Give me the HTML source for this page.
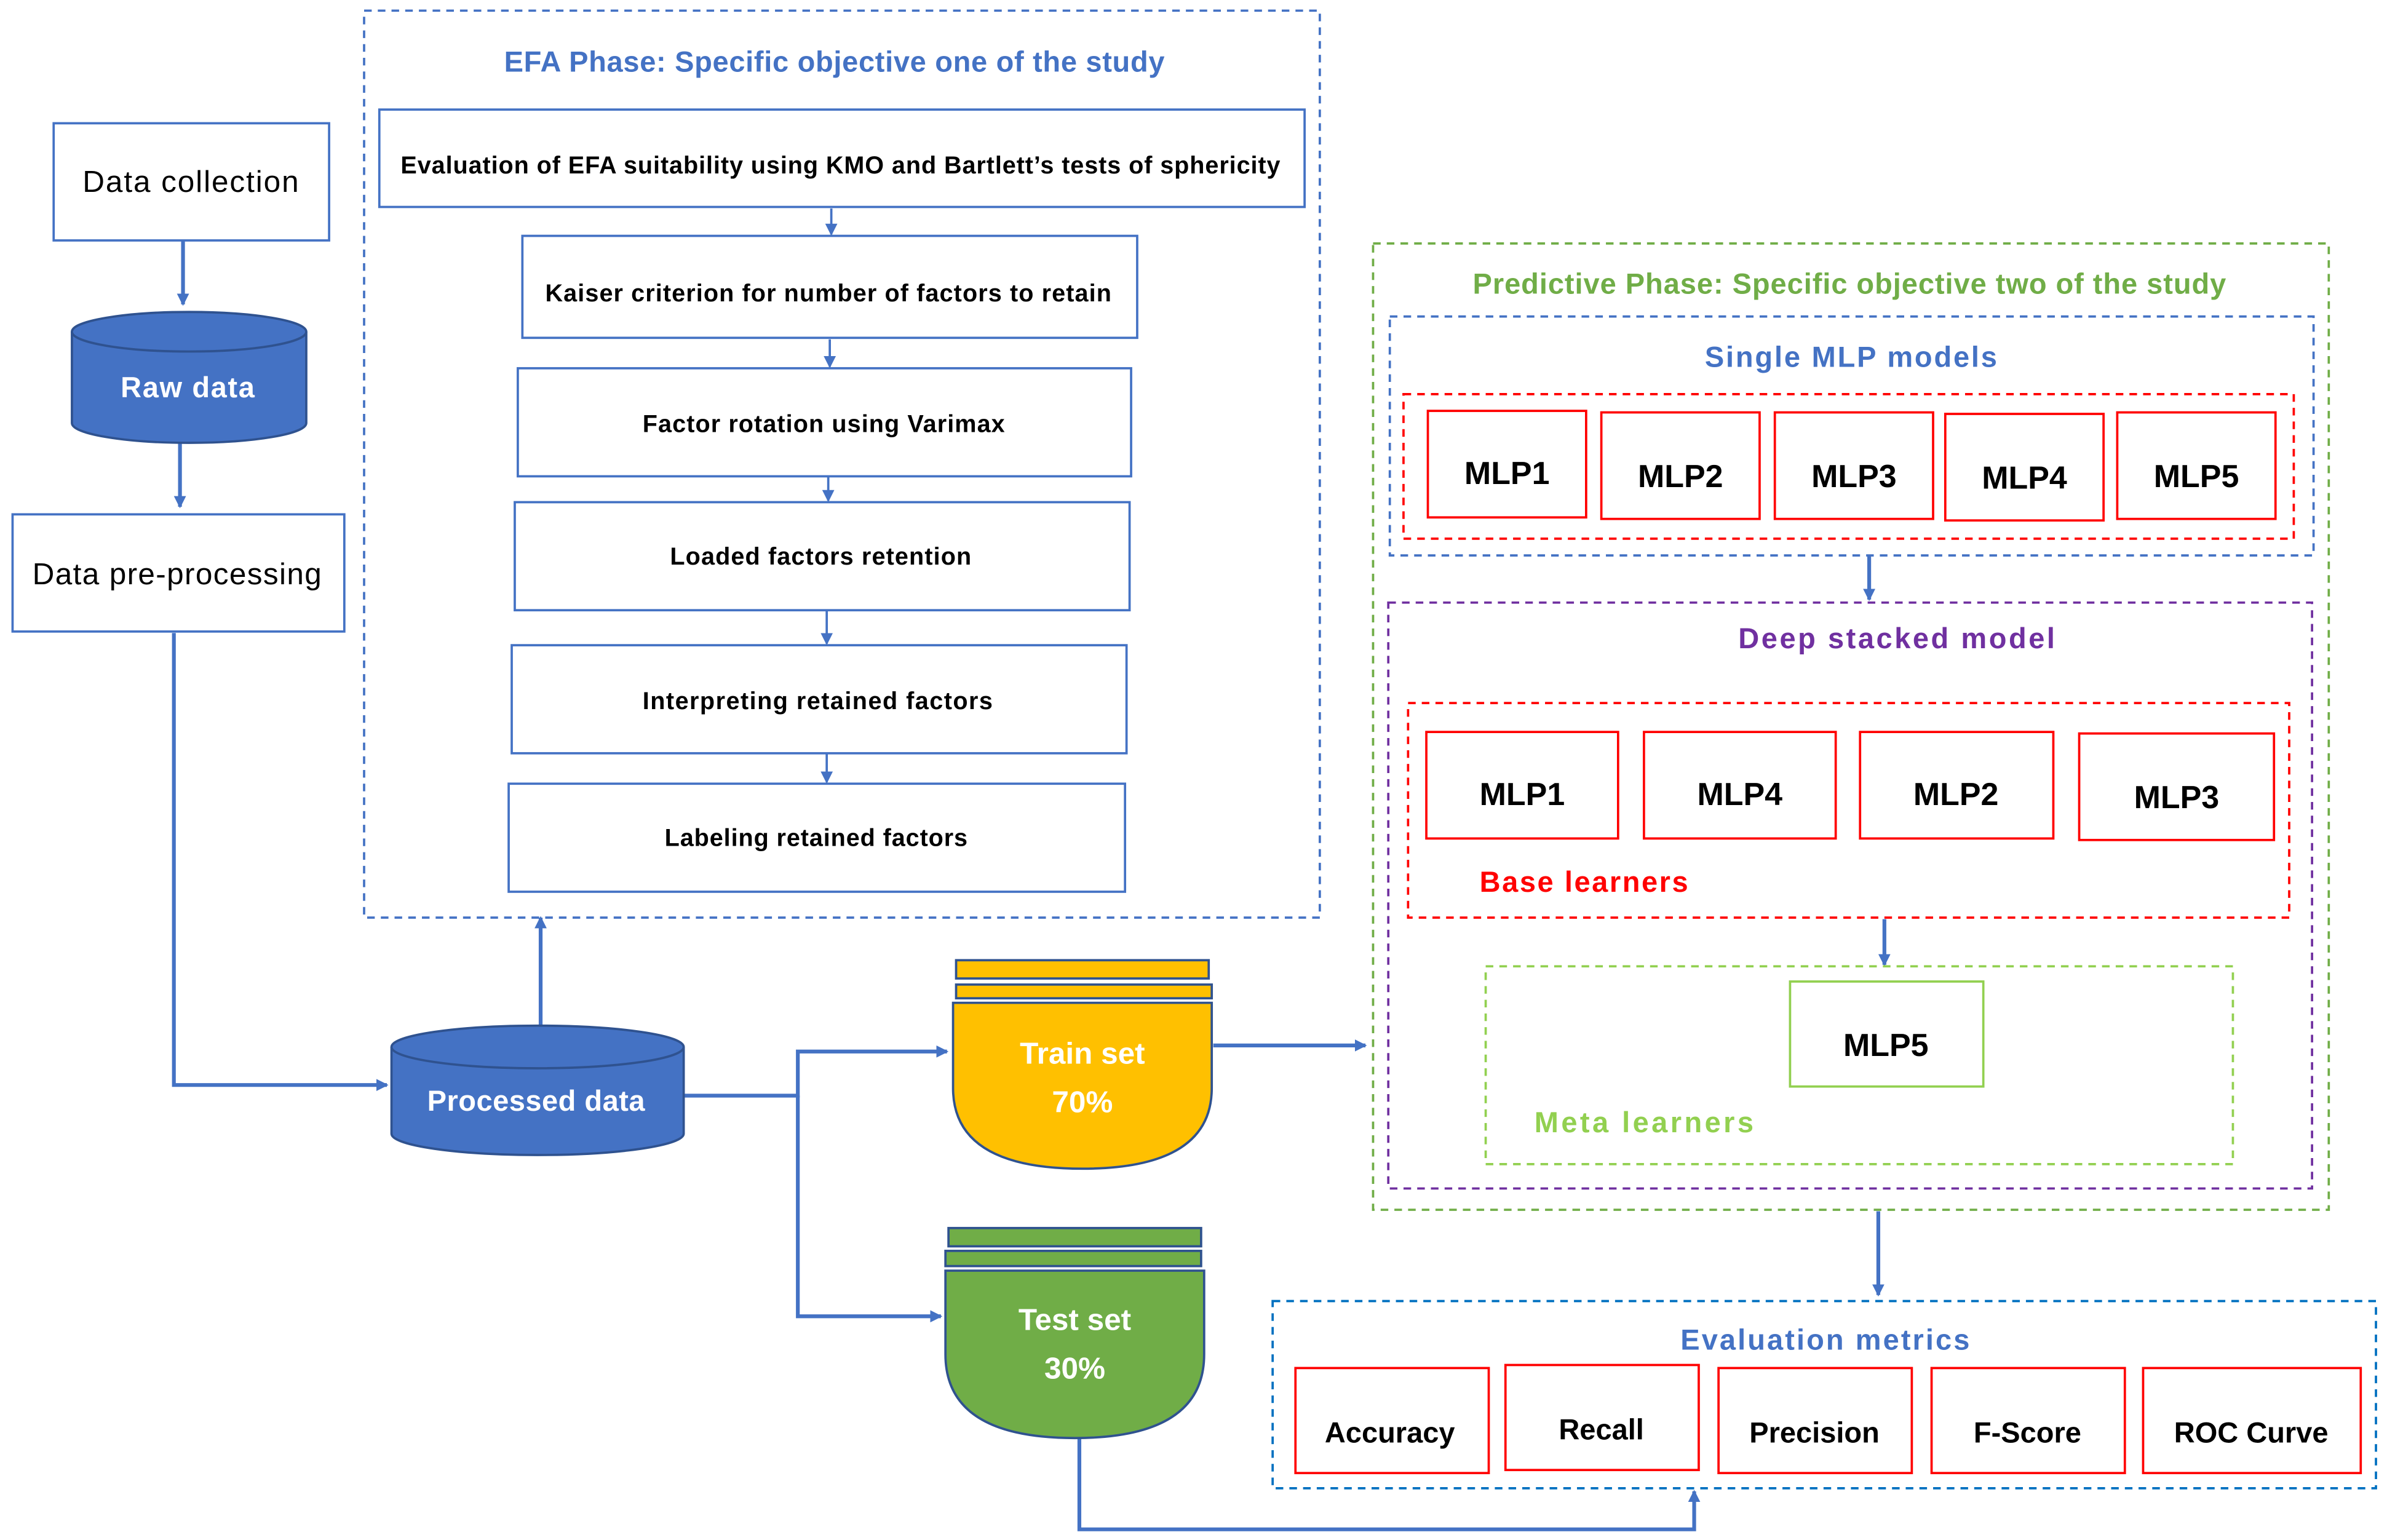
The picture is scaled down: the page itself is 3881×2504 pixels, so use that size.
<!DOCTYPE html>
<html><head><meta charset="utf-8"><style>
html,body{margin:0;padding:0;background:#fff;}
svg{display:block;}
text{font-family:"Liberation Sans",sans-serif;font-weight:bold;}
</style></head><body>
<svg width="3881" height="2504" viewBox="0 0 1568 1012" xmlns="http://www.w3.org/2000/svg">
<defs>
<marker id="ar" markerWidth="8" markerHeight="8" refX="7" refY="4" orient="auto" markerUnits="userSpaceOnUse">
<path d="M0,0 L8,4 L0,8 Z" fill="#4472C4"/></marker>
</defs>
<rect width="1568" height="1012" fill="#fff"/>
<g fill="none" stroke="#4472C4" stroke-width="2.5">
<line x1="120" y1="158" x2="120" y2="200" marker-end="url(#ar)"/>
<line x1="118" y1="290" x2="118" y2="333" marker-end="url(#ar)"/>
<polyline points="114,416 114,713 254,713" marker-end="url(#ar)"/>
<line x1="355" y1="675" x2="355" y2="603" marker-end="url(#ar)"/>
<polyline points="449,720 524,720 524,691 622,691" marker-end="url(#ar)"/>
<polyline points="524,720 524,865 618,865" marker-end="url(#ar)"/>
<line x1="797" y1="687" x2="897" y2="687" marker-end="url(#ar)"/>
<polyline points="709,945 709,1005 1113,1005 1113,980" marker-end="url(#ar)"/>
<line x1="1228" y1="365" x2="1228" y2="394" marker-end="url(#ar)"/>
<line x1="1238" y1="604" x2="1238" y2="634" marker-end="url(#ar)"/>
<line x1="1234" y1="796" x2="1234" y2="851" marker-end="url(#ar)"/>
<line x1="546" y1="137" x2="546" y2="154" stroke-width="1.5" marker-end="url(#ar)"/>
<line x1="545" y1="223" x2="545" y2="241" stroke-width="1.5" marker-end="url(#ar)"/>
<line x1="544" y1="313" x2="544" y2="329" stroke-width="1.5" marker-end="url(#ar)"/>
<line x1="543" y1="401" x2="543" y2="423" stroke-width="1.5" marker-end="url(#ar)"/>
<line x1="543" y1="495" x2="543" y2="514" stroke-width="1.5" marker-end="url(#ar)"/>
</g>
<g fill="#fff" stroke="#4472C4" stroke-width="1.5">
<rect x="35" y="81" width="181" height="77"/>
<rect x="8" y="338" width="218" height="77"/>
<rect x="249" y="72" width="608" height="64"/>
<rect x="343" y="155" width="404" height="67"/>
<rect x="340" y="242" width="403" height="71"/>
<rect x="338" y="330" width="404" height="71"/>
<rect x="336" y="424" width="404" height="71"/>
<rect x="334" y="515" width="405" height="71"/>
</g>
<text x="125" y="126" font-size="20" text-anchor="middle" fill="#000" style="font-weight:normal" textLength="142">Data collection</text>
<text x="116" y="384" font-size="20" text-anchor="middle" fill="#000" style="font-weight:normal" textLength="190">Data pre-processing</text>
<g stroke="#2F528F" stroke-width="1.5">
<path d="M47,218 L47,278 A77,13 0 0 0 201,278 L201,218" fill="#4472C4"/>
<ellipse cx="124" cy="218" rx="77" ry="13" fill="#4472C4"/>
<path d="M257,688 L257,745 A96,14 0 0 0 449,745 L449,688" fill="#4472C4"/>
<ellipse cx="353" cy="688" rx="96" ry="14" fill="#4472C4"/>
</g>
<text x="123" y="261" font-size="19" text-anchor="middle" fill="#fff" textLength="88">Raw data</text>
<text x="352" y="730" font-size="19" text-anchor="middle" fill="#fff" textLength="143">Processed data</text>
<rect x="239" y="7" width="628" height="596" fill="none" stroke="#4472C4" stroke-width="1.5" stroke-dasharray="5,4"/>
<text x="548" y="47" font-size="19" text-anchor="middle" fill="#4472C4" textLength="434">EFA Phase: Specific objective one of the study</text>
<g font-size="16" text-anchor="middle" fill="#000">
<text x="552" y="114" textLength="578">Evaluation of EFA suitability using KMO and Bartlett’s tests of sphericity</text>
<text x="544" y="198" textLength="372">Kaiser criterion for number of factors to retain</text>
<text x="541" y="284" textLength="238">Factor rotation using Varimax</text>
<text x="539" y="371" textLength="198">Loaded factors retention</text>
<text x="537" y="466" textLength="230">Interpreting retained factors</text>
<text x="536" y="556" textLength="199">Labeling retained factors</text>
</g>
<g stroke="#2F528F" stroke-width="1.5">
<rect x="628" y="631" width="166" height="12" fill="#FFC000"/>
<rect x="628" y="647" width="168" height="9" fill="#FFC000"/>
<path d="M626,659 L796,659 L796,715 Q796,768 711,768 Q626,768 626,715 Z" fill="#FFC000"/>
<rect x="623" y="807" width="166" height="12" fill="#70AD47"/>
<rect x="621" y="822" width="168" height="10" fill="#70AD47"/>
<path d="M621,835 L791,835 L791,890 Q791,945 706,945 Q621,945 621,890 Z" fill="#70AD47"/>
</g>
<g font-size="20" text-anchor="middle" fill="#fff">
<text x="711" y="699">Train set</text><text x="711" y="731">70%</text>
<text x="706" y="874">Test set</text><text x="706" y="906">30%</text>
</g>
<rect x="902" y="160" width="628" height="635" fill="none" stroke="#70AD47" stroke-width="1.5" stroke-dasharray="5,4"/>
<text x="1215" y="193" font-size="19" text-anchor="middle" fill="#70AD47" textLength="495">Predictive Phase: Specific objective two of the study</text>
<rect x="913" y="208" width="607" height="157" fill="none" stroke="#4472C4" stroke-width="1.5" stroke-dasharray="5,4"/>
<text x="1216" y="241" font-size="19" text-anchor="middle" fill="#4472C4" textLength="192">Single MLP models</text>
<rect x="922" y="259" width="585" height="95" fill="none" stroke="#FF0000" stroke-width="1.5" stroke-dasharray="5,4"/>
<g fill="#fff" stroke="#FF0000" stroke-width="1.5">
<rect x="938" y="270" width="104" height="70"/><rect x="1052" y="271" width="104" height="70"/>
<rect x="1166" y="271" width="104" height="70"/><rect x="1278" y="272" width="104" height="70"/>
<rect x="1391" y="271" width="104" height="70"/>
<rect x="937" y="481" width="126" height="70"/><rect x="1080" y="481" width="126" height="70"/>
<rect x="1222" y="481" width="127" height="70"/><rect x="1366" y="482" width="128" height="70"/>
</g>
<g font-size="21" text-anchor="middle" fill="#000">
<text x="990" y="318">MLP1</text><text x="1104" y="320">MLP2</text><text x="1218" y="320">MLP3</text>
<text x="1330" y="321">MLP4</text><text x="1443" y="320">MLP5</text>
<text x="1000" y="529">MLP1</text><text x="1143" y="529">MLP4</text><text x="1285" y="529">MLP2</text>
<text x="1430" y="531">MLP3</text>
</g>
<rect x="912" y="396" width="607" height="385" fill="none" stroke="#7030A0" stroke-width="1.5" stroke-dasharray="5,4"/>
<text x="1246" y="426" font-size="19" text-anchor="middle" fill="#7030A0" textLength="208">Deep stacked model</text>
<rect x="925" y="462" width="579" height="141" fill="none" stroke="#FF0000" stroke-width="1.5" stroke-dasharray="5,4"/>
<text x="972" y="586" font-size="19" fill="#FF0000" textLength="137">Base learners</text>
<rect x="976" y="635" width="491" height="130" fill="none" stroke="#92D050" stroke-width="1.5" stroke-dasharray="5,4"/>
<rect x="1176" y="645" width="127" height="69" fill="#fff" stroke="#92D050" stroke-width="1.5"/>
<text x="1239" y="694" font-size="21" text-anchor="middle" fill="#000">MLP5</text>
<text x="1008" y="744" font-size="19" fill="#92D050" textLength="144">Meta learners</text>
<rect x="836" y="855" width="725" height="123" fill="none" stroke="#0070C0" stroke-width="1.5" stroke-dasharray="5,4"/>
<text x="1199" y="887" font-size="19" text-anchor="middle" fill="#4472C4" textLength="190">Evaluation metrics</text>
<g fill="#fff" stroke="#FF0000" stroke-width="1.5">
<rect x="851" y="899" width="127" height="69"/><rect x="989" y="897" width="127" height="69"/>
<rect x="1129" y="899" width="127" height="69"/><rect x="1269" y="899" width="127" height="69"/>
<rect x="1408" y="899" width="143" height="69"/>
</g>
<g font-size="19" text-anchor="middle" fill="#000">
<text x="913" y="948">Accuracy</text><text x="1052" y="946">Recall</text><text x="1192" y="948">Precision</text>
<text x="1332" y="948">F-Score</text><text x="1479" y="948">ROC Curve</text>
</g>
</svg>
</body></html>
